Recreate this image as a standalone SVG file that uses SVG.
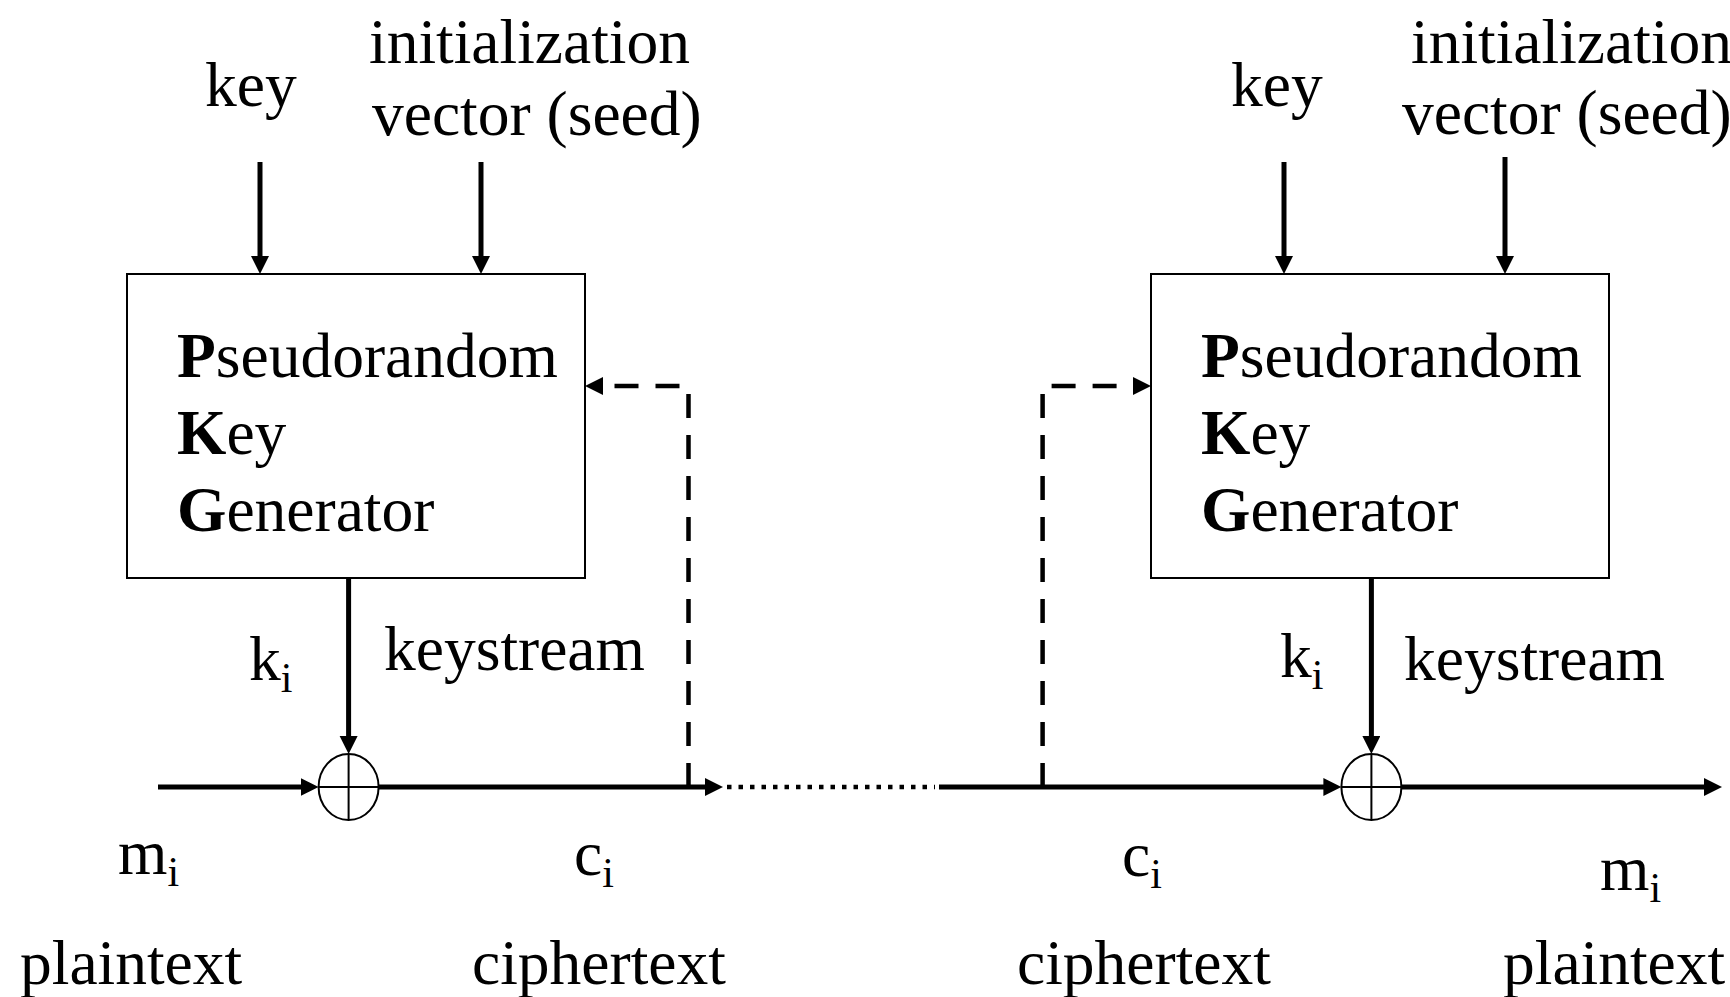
<svg xmlns="http://www.w3.org/2000/svg" width="1730" height="997" viewBox="0 0 1730 997">
  <style>
    text { font-family: "Liberation Serif", "Times New Roman", serif; font-size: 63.5px; fill: #000; }
    .sub { font-size: 42px; }
    .box { fill: #fff; stroke: #000; stroke-width: 2; }
    .xor { fill: #fff; stroke: #000; stroke-width: 2; }
    .cross { stroke: #000; stroke-width: 2; }
    .arrow { stroke: #000; stroke-width: 5; fill: none; }
    .main { stroke: #000; stroke-width: 5; fill: none; }
    .dotted { stroke: #000; stroke-width: 4.5; stroke-dasharray: 4.5 7; fill: none; }
    .dashed { stroke: #000; stroke-width: 4.5; stroke-dasharray: 24 17; fill: none; }
  </style>
  <defs>
    <marker id="head" markerUnits="userSpaceOnUse" markerWidth="20" markerHeight="20" refX="4" refY="9" orient="auto">
      <path d="M0,0 L18,9 L0,18 z" fill="#000"/>
    </marker>
  </defs>
  <rect width="1730" height="997" fill="#fff"/>

  <!-- sender side inputs -->
  <g id="enc-inputs">
    <text x="205" y="106">key</text>
    <text x="369" y="63">initialization</text>
    <text x="372" y="135">vector (seed)</text>
  </g>

  <!-- sender keystream generator -->
  <g id="enc-generator">
    <rect class="box" x="127" y="274" width="458" height="304"/>
    <text x="177" y="377"><tspan font-weight="bold">P</tspan>seudorandom</text>
    <text x="177" y="454"><tspan font-weight="bold">K</tspan>ey</text>
    <text x="177" y="531"><tspan font-weight="bold">G</tspan>enerator</text>
  </g>

  <!-- sender XOR -->
  <g id="enc-xor">
    <ellipse class="xor" cx="348.6" cy="787" rx="30" ry="33"/>
    <line class="cross" x1="348.6" y1="754" x2="348.6" y2="820"/>
    <line class="cross" x1="318.6" y1="787" x2="378.6" y2="787"/>
  </g>

  <!-- sender labels -->
  <g id="enc-labels">
    <text x="249" y="680">k<tspan class="sub" dy="12">i</tspan></text>
    <text x="384" y="670">keystream</text>
    <text x="118" y="874">m<tspan class="sub" dy="12">i</tspan></text>
    <text x="574" y="875">c<tspan class="sub" dy="12">i</tspan></text>
    <text x="20" y="984">plaintext</text>
    <text x="472" y="984">ciphertext</text>
  </g>

  <!-- receiver side inputs -->
  <g id="dec-inputs">
    <text x="1231" y="106">key</text>
    <text x="1411" y="63">initialization</text>
    <text x="1402" y="134">vector (seed)</text>
  </g>

  <!-- receiver keystream generator -->
  <g id="dec-generator">
    <rect class="box" x="1151" y="274" width="458" height="304"/>
    <text x="1201" y="377"><tspan font-weight="bold">P</tspan>seudorandom</text>
    <text x="1201" y="454"><tspan font-weight="bold">K</tspan>ey</text>
    <text x="1201" y="531"><tspan font-weight="bold">G</tspan>enerator</text>
  </g>

  <!-- receiver XOR -->
  <g id="dec-xor">
    <ellipse class="xor" cx="1371.4" cy="787" rx="30" ry="33"/>
    <line class="cross" x1="1371.4" y1="754" x2="1371.4" y2="820"/>
    <line class="cross" x1="1341.4" y1="787" x2="1401.4" y2="787"/>
  </g>

  <!-- receiver labels -->
  <g id="dec-labels">
    <text x="1280" y="677">k<tspan class="sub" dy="12">i</tspan></text>
    <text x="1404" y="680">keystream</text>
    <text x="1122" y="876">c<tspan class="sub" dy="12">i</tspan></text>
    <text x="1600" y="890">m<tspan class="sub" dy="12">i</tspan></text>
    <text x="1017" y="984">ciphertext</text>
    <text x="1503" y="984">plaintext</text>
  </g>

  <!-- connectors -->
  <g id="connectors">
    <!-- inputs into the generators -->
    <line class="arrow" x1="260" y1="162" x2="260" y2="260" marker-end="url(#head)"/>
    <line class="arrow" x1="481" y1="162" x2="481" y2="260" marker-end="url(#head)"/>
    <line class="arrow" x1="1284" y1="162" x2="1284" y2="260" marker-end="url(#head)"/>
    <line class="arrow" x1="1505" y1="157" x2="1505" y2="260" marker-end="url(#head)"/>

    <!-- keystream into XOR -->
    <line class="arrow" x1="348.6" y1="578" x2="348.6" y2="740" marker-end="url(#head)"/>
    <line class="arrow" x1="1371.4" y1="578" x2="1371.4" y2="740" marker-end="url(#head)"/>

    <!-- data path -->
    <line class="main" x1="158" y1="787" x2="304.6" y2="787" marker-end="url(#head)"/>
    <line class="main" x1="378.6" y1="787" x2="709" y2="787" marker-end="url(#head)"/>
    <line class="dotted" x1="727" y1="787" x2="935" y2="787"/>
    <line class="main" x1="939" y1="787" x2="1327.4" y2="787" marker-end="url(#head)"/>
    <line class="main" x1="1401.4" y1="787" x2="1708" y2="787" marker-end="url(#head)"/>

    <!-- ciphertext feedback to the generators -->
    <path class="dashed" d="M688.5,787 V386 H599" marker-end="url(#head)"/>
    <path class="dashed" d="M1042.6,787 V386 H1137" marker-end="url(#head)"/>
  </g>
</svg>
